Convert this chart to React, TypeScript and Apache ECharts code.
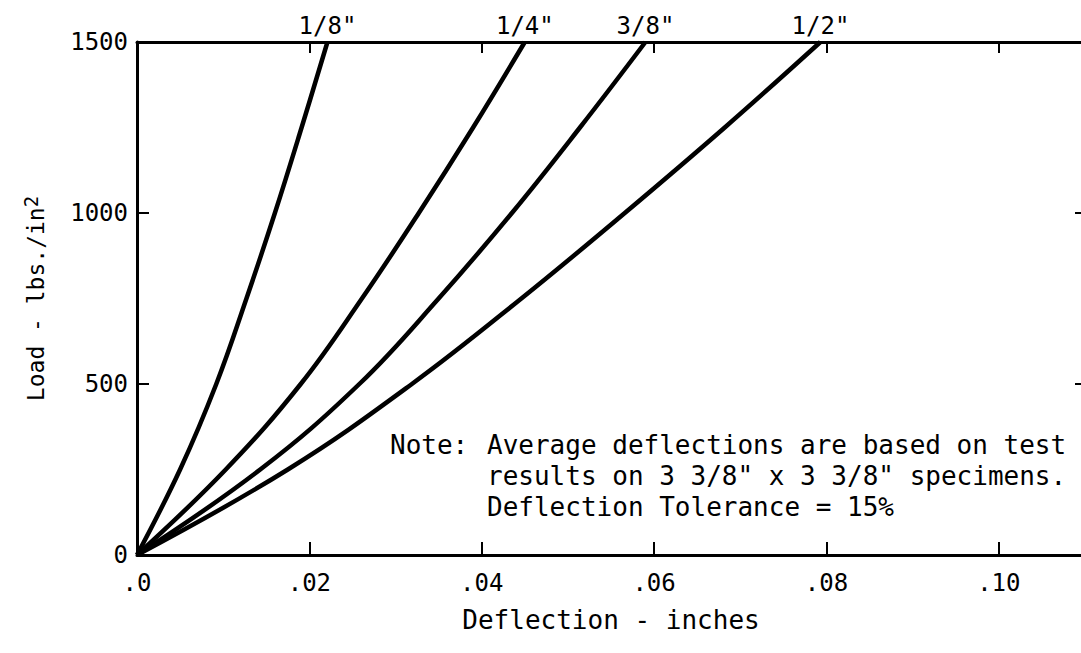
import React, { useEffect, useRef } from 'react';
import * as echarts from 'echarts';

// Specimen thickness labels
const sizeNames = ['1/8"', '1/4"', '3/8"', '1/2"'];

// Load levels (lbs./in^2) at which deflections were read
const loads = [0, 250, 500, 750, 1000, 1250, 1500];

// Deflection (inches) at the load levels above
const defl18 = [0, 0.005, 0.0092, 0.0127, 0.016, 0.0191, 0.0221];
const defl14 = [0, 0.0103, 0.019, 0.0261, 0.0327, 0.039, 0.045];
const defl38 = [0, 0.0143, 0.0258, 0.035, 0.0435, 0.0514, 0.059];
const defl12 = [0, 0.0175, 0.0319, 0.0446, 0.0566, 0.0682, 0.0793];

const yTickLabels = ['0', '500', '1000', '1500'];

const labelOffsets = [14, 21, 16, 18];

const noteHead = 'Note:';
const noteLines = [
  'Average deflections are based on test',
  'results on 3 3/8" x 3 3/8" specimens.',
  'Deflection Tolerance = 15%',
];

const FONT = "'DejaVu Sans Mono', monospace";

function buildSeries() {
  const all = [defl18, defl14, defl38, defl12];
  return all.map((d, i) => {
    const data: any[] = d.map((x, k) => [x, loads[k]]);
    const last = data.length - 1;
    data[last] = {
      value: data[last],
      label: {
        show: true,
        formatter: sizeNames[i],
        position: 'top',
        distance: 4,
        offset: [labelOffsets[i], 0],
        color: '#000',
        fontFamily: FONT,
        fontSize: 24,
      },
    };
    return {
      type: 'line',
      name: sizeNames[i],
      data,
      smooth: 0.4,
      showSymbol: true,
      symbol: 'circle',
      symbolSize: 0,
      clip: false,
      lineStyle: { color: '#000', width: 4.5 },
      itemStyle: { color: '#000' },
      label: { show: false },
      labelLayout: { hideOverlap: false },
    };
  });
}

export default function App() {
  const ref = useRef<HTMLDivElement>(null);
  useEffect(() => {
    if (!ref.current) return;
    document.documentElement.style.overflow = 'hidden';
    document.body.style.overflow = 'hidden';
    const chart = echarts.init(ref.current, undefined, { renderer: 'svg' });
    const xFmt = (v: number) => {
      const h = Math.round(v * 100);
      if (h % 2 !== 0 || v > 0.105) return '';
      return h === 0 ? '.0' : '.' + String(h).padStart(2, '0');
    };
    const yFmt = (v: number) => yTickLabels[Math.round(v / 500)] ?? '';
    chart.setOption({
      animation: false,
      backgroundColor: '#fff',
      grid: { left: 137, top: 42, width: 948, height: 513, containLabel: false },
      xAxis: [
        {
          type: 'value',
          min: 0,
          max: 0.11,
          interval: 0.02,
          position: 'bottom',
          name: 'Deflection - inches',
          nameLocation: 'middle',
          nameGap: 52,
          nameTextStyle: { color: '#000', fontFamily: FONT, fontSize: 26 },
          axisLine: { show: true, onZero: false, lineStyle: { color: '#000', width: 3 } },
          axisTick: { show: true, inside: true, length: 13, lineStyle: { color: '#000', width: 2 } },
          axisLabel: {
            show: true,
            formatter: xFmt,
            margin: 16,
            color: '#000',
            fontFamily: FONT,
            fontSize: 24,
            showMaxLabel: false,
          },
          splitLine: { show: false },
        },
        {
          type: 'value',
          min: 0,
          max: 0.11,
          interval: 0.02,
          position: 'top',
          axisLine: { show: true, onZero: false, lineStyle: { color: '#000', width: 3 } },
          axisTick: { show: true, inside: true, length: 11, lineStyle: { color: '#000', width: 2 } },
          axisLabel: { show: false },
          splitLine: { show: false },
        },
      ],
      yAxis: [
        {
          type: 'value',
          min: 0,
          max: 1500,
          interval: 500,
          position: 'left',
          name: '{a|Load - lbs./in}{b|2}',
          nameLocation: 'middle',
          nameGap: 86,
          nameRotate: 90,
          nameTextStyle: {
            color: '#000',
            fontFamily: FONT,
            fontSize: 23,
            rich: {
              a: { fontFamily: FONT, fontSize: 23, color: '#000', lineHeight: 30 },
              b: { fontFamily: FONT, fontSize: 19, color: '#000', verticalAlign: 'top', lineHeight: 30 },
            },
          },
          axisLine: { show: true, onZero: false, lineStyle: { color: '#000', width: 3 } },
          axisTick: { show: true, inside: true, length: 12, lineStyle: { color: '#000', width: 2 } },
          axisLabel: { show: true, formatter: yFmt, margin: 9, color: '#000', fontFamily: FONT, fontSize: 24 },
          splitLine: { show: false },
        },
        {
          type: 'value',
          min: 0,
          max: 1500,
          interval: 500,
          position: 'right',
          axisLine: { show: true, onZero: false, lineStyle: { color: '#000', width: 3 } },
          axisTick: { show: true, inside: true, length: 10, lineStyle: { color: '#000', width: 2 } },
          axisLabel: { show: false },
          splitLine: { show: false },
        },
      ],
      graphic: [
        {
          type: 'text',
          left: 390,
          top: 432,
          style: { text: noteHead, fontFamily: FONT, fontSize: 26, fill: '#000' },
        },
        ...noteLines.map((t, i) => ({
          type: 'text',
          left: 487,
          top: 432 + i * 31,
          style: { text: t, fontFamily: FONT, fontSize: 26, fill: '#000' },
        })),
      ],
      series: buildSeries(),
    });
    return () => chart.dispose();
  }, []);
  return (
    <div
      ref={ref}
      style={{ position: 'fixed', left: 0, top: 0, width: 1100, height: 653, background: '#fff' }}
    />
  );
}
